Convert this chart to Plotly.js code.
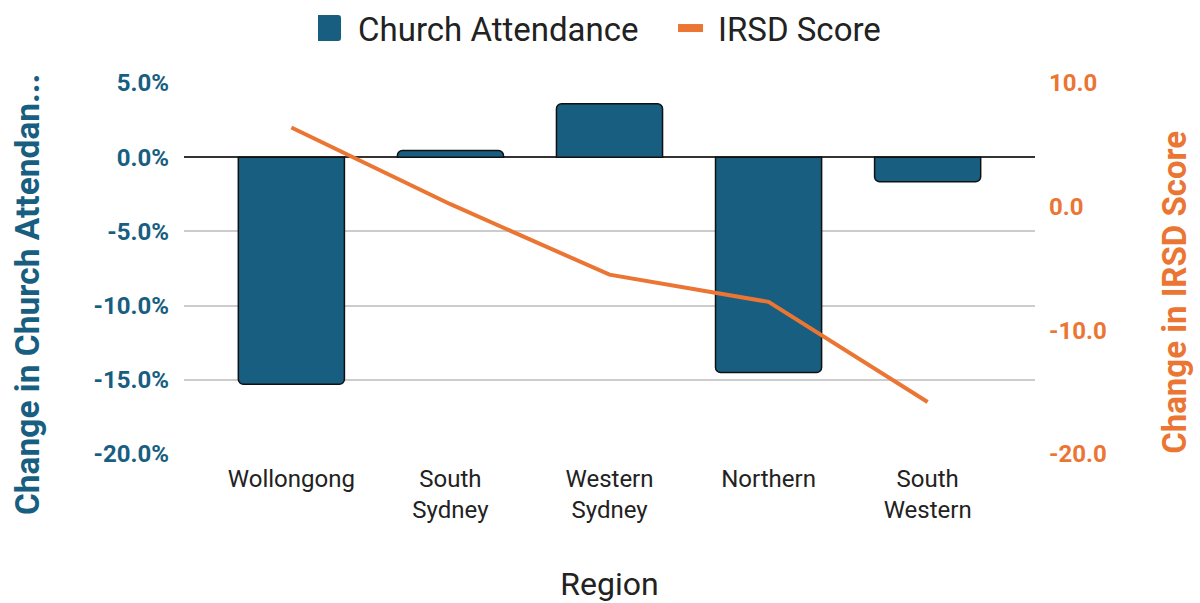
<!DOCTYPE html>
<html>
<head>
<meta charset="utf-8">
<script src="https://cdn.plot.ly/plotly-3.0.1.min.js"></script>
<style>html,body{margin:0;padding:0;background:#fff;}#chart{width:1200px;height:603px;}</style>
</head>
<body>
<div id="chart"></div>
<script>
const regions = ["Wollongong", "South<br>Sydney", "Western<br>Sydney", "Northern", "South<br>Western"];
const churchAttendance = [-15.3, 0.45, 3.6, -14.5, -1.65];
const irsdScore = [6.4, 0.2, -5.5, -7.7, -15.8];
const leftTickVals = [5, 0, -5, -10, -15, -20];
const leftTickText = ["5.0%", "0.0%", "-5.0%", "-10.0%", "-15.0%", "-20.0%"];
const rightTickVals = [10, 0, -10, -20];
const rightTickText = ["10.0", "0.0", "-10.0", "-20.0"];
const leftTitle = "Change in Church Attendan...";
const rightTitle = "Change in IRSD Score";

const teal = "#185e80";
const orange = "#eb7533";

const data = [
  {
    type: "bar",
    name: "Church Attendance",
    x: regions,
    y: churchAttendance,
    marker: {color: teal, line: {color: "#111", width: 1.5}, cornerradius: 5},
    yaxis: "y"
  },
  {
    type: "scatter",
    mode: "lines",
    name: "IRSD Score",
    x: regions,
    y: irsdScore,
    line: {color: orange, width: 4},
    yaxis: "y2"
  }
];

const layout = {
  width: 1200,
  height: 603,
  paper_bgcolor: "#fff",
  plot_bgcolor: "#fff",
  font: {family: "Roboto, 'Open Sans', sans-serif", color: "#222"},
  margin: {l: 184, r: 165, t: 83, b: 149, autoexpand: false},
  bargap: 0.333,
  showlegend: true,
  legend: {
    orientation: "h",
    x: 0.1575, xanchor: "left",
    y: 1.148, yanchor: "middle",
    entrywidth: 315,
    entrywidthmode: "pixels",
    font: {size: 33, color: "#222"},
    traceorder: "normal"
  },
  xaxis: {
    range: [-0.675, 4.675],
    tickfont: {size: 24, color: "#222"},
    showgrid: false,
    zeroline: false,
    showline: false,
    ticks: "",
    ticklabelstandoff: 8,
    title: {text: "Region", font: {size: 32, color: "#222"}, standoff: 50}
  },
  yaxis: {
    range: [-20, 5],
    tickvals: leftTickVals,
    ticktext: leftTickText,
    tickfont: {size: 24, color: teal, weight: "bold"},
    gridcolor: "#cccccc",
    gridwidth: 2,
    zeroline: true,
    zerolinecolor: "#333",
    zerolinewidth: 2,
    showline: false,
    ticks: "",
    ticklabelstandoff: 14
  },
  yaxis2: {
    overlaying: "y",
    side: "right",
    range: [-20, 10],
    tickvals: rightTickVals,
    ticktext: rightTickText,
    tickfont: {size: 24, color: orange, weight: "bold"},
    showgrid: false,
    zeroline: false,
    showline: false,
    ticks: "",
    ticklabelstandoff: 13
  },
  annotations: [
    {
      text: leftTitle, xref: "paper", yref: "paper",
      x: -0.1845, y: 0.431, xanchor: "center", yanchor: "middle",
      textangle: -90, showarrow: false,
      font: {size: 33.5, color: teal, weight: "bold"}
    },
    {
      text: rightTitle, xref: "paper", yref: "paper",
      x: 1.1645, y: 0.437, xanchor: "center", yanchor: "middle",
      textangle: -90, showarrow: false,
      font: {size: 33, color: orange, weight: "bold"}
    }
  ]
};

Plotly.newPlot("chart", data, layout, {displayModeBar: false, responsive: false}).then(function (gd) {
  const traces = gd.querySelectorAll(".legend .traces");
  if (traces.length > 0) {
    const sq = traces[0].querySelector(".legendpoints path");
    if (sq) {
      sq.setAttribute("d", "M-10,-13H10A3,3 0 0 1 13,-10V10A3,3 0 0 1 10,13H-10A3,3 0 0 1 -13,10V-10A3,3 0 0 1 -10,-13Z");
      sq.setAttribute("transform", "translate(10,0)");
      sq.style.stroke = "none";
      sq.style.fill = teal;
    }
  }
  if (traces.length > 1) {
    const ln = traces[1].querySelector(".legendlines path");
    if (ln) {
      ln.setAttribute("d", "M0,0h25");
      ln.style.strokeWidth = "8px";
    }
  }
});
</script>
</body>
</html>
